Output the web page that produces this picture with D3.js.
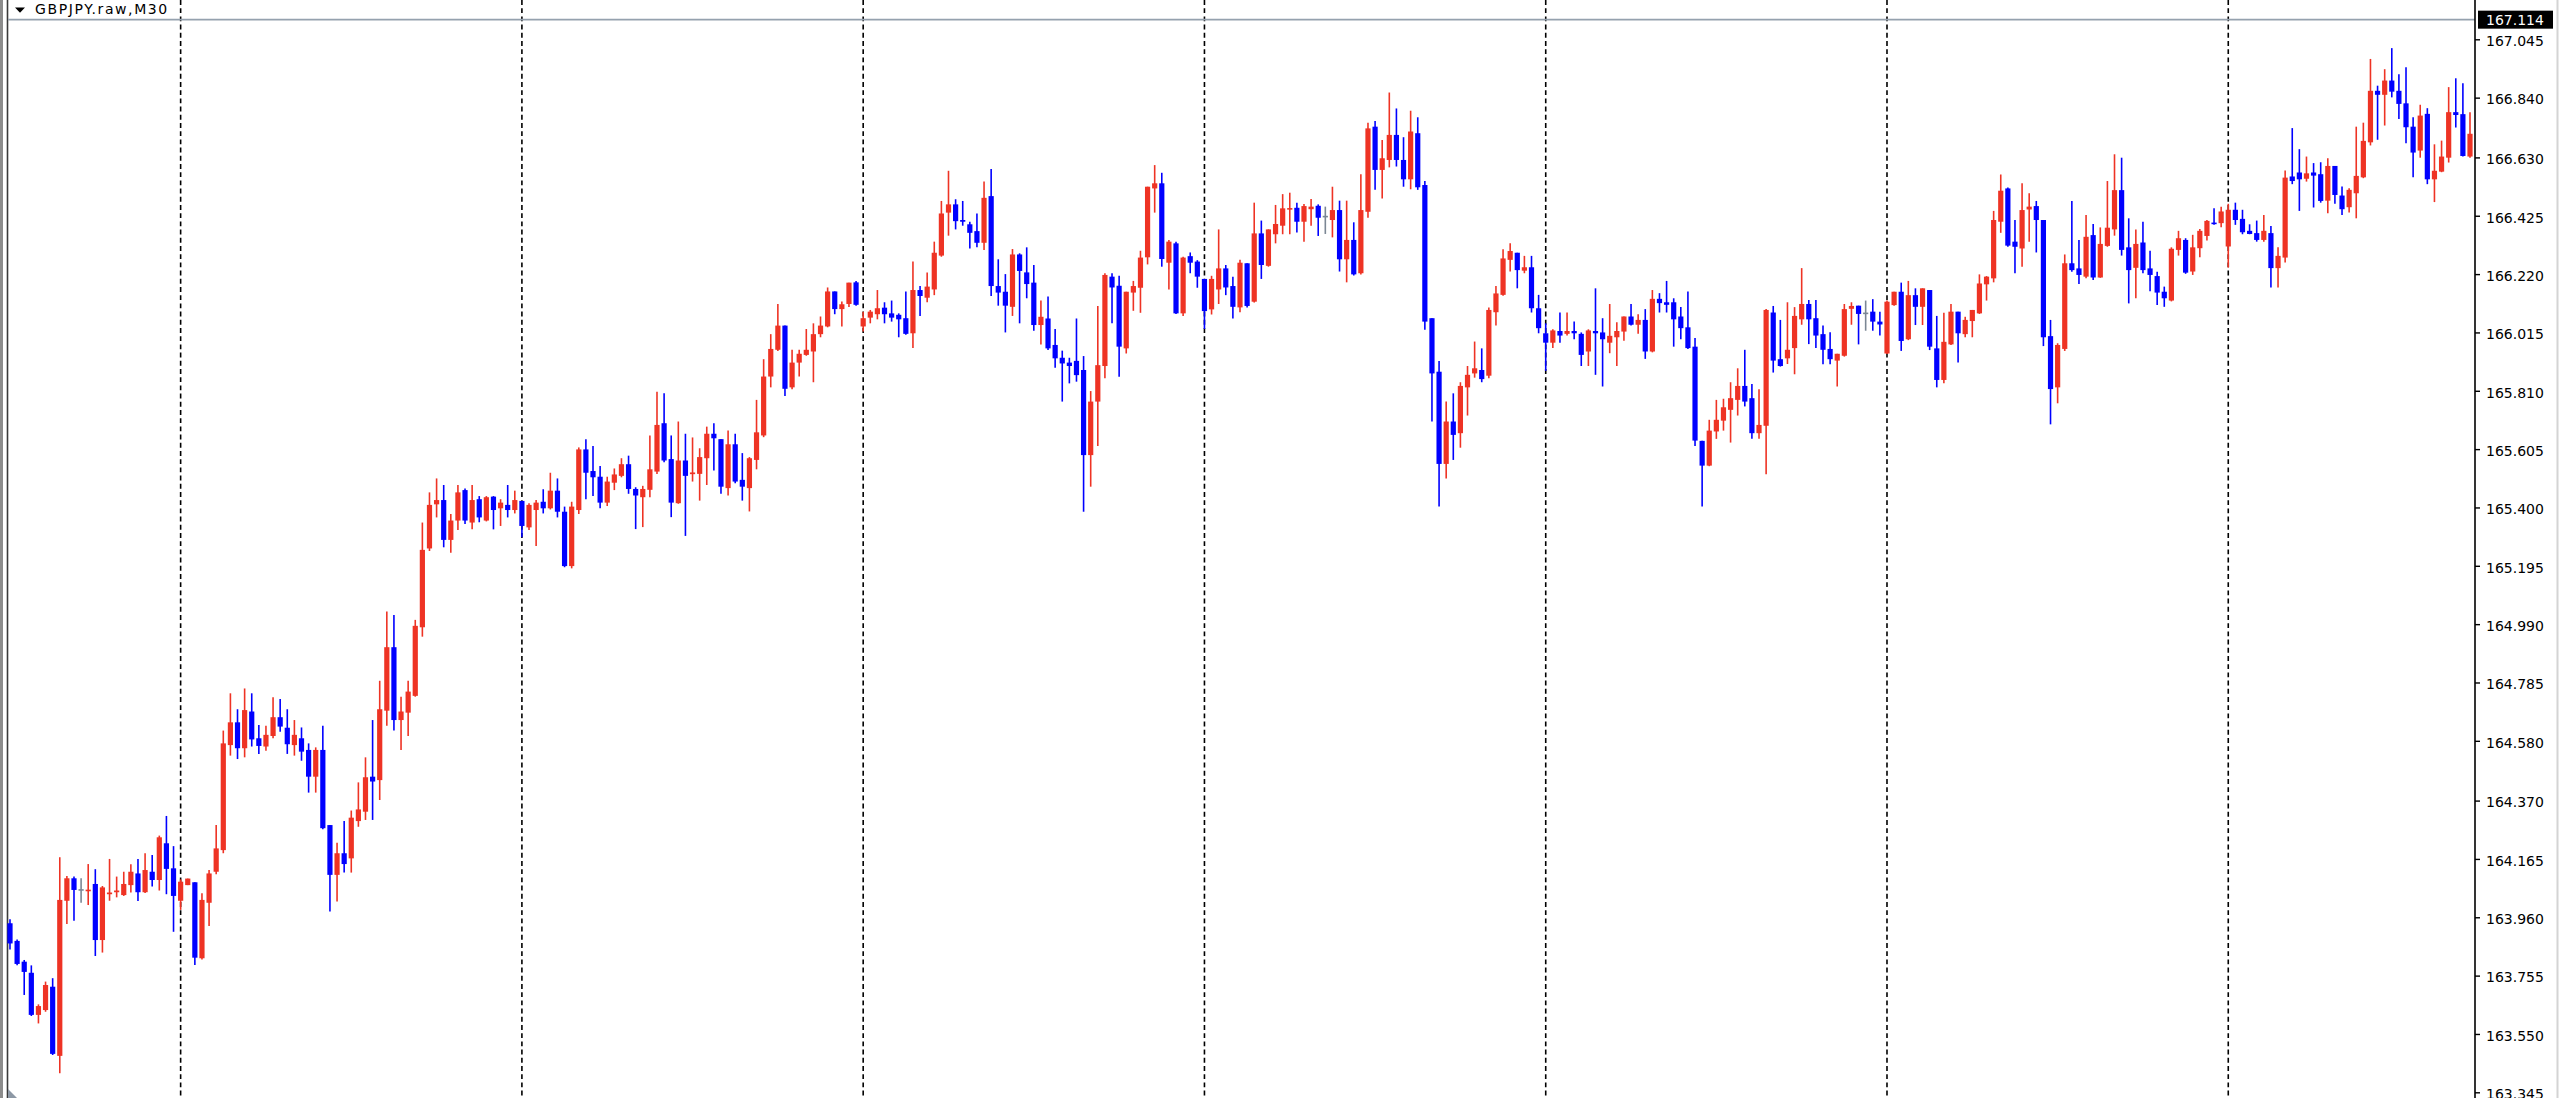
<!DOCTYPE html>
<html><head><meta charset="utf-8">
<script src="https://cdn.jsdelivr.net/npm/d3@7"></script>
<style>html,body{margin:0;padding:0;background:#fff;overflow:hidden}</style>
</head><body>
<svg id="chart" width="2560" height="1098"></svg>
<script>
const symbolTitle = "GBPJPY.raw,M30";
const currentPrice = 167.114;
const priceTicks = ["167.045","166.840","166.630","166.425","166.220","166.015","165.810","165.605","165.400","165.195","164.990","164.785","164.580","164.370","164.165","163.960","163.755","163.550","163.345"];
const separatorBars = [24,72,120,168,216,264,312];

const opens = [
163.939,163.877,163.804,163.765,163.617,163.634,163.716,163.473,164.018,164.097,
164.056,164.053,164.077,163.880,164.041,164.048,164.038,164.073,164.114,164.048,
164.120,164.091,164.220,164.132,164.018,164.073,164.083,163.816,164.011,164.120,
164.196,164.565,164.645,164.554,164.683,164.589,164.560,164.597,164.663,164.626,
164.565,164.589,164.548,164.454,164.548,164.284,164.109,164.185,164.167,164.298,
164.331,164.454,164.442,164.686,164.909,164.653,164.679,164.738,164.979,165.256,
165.411,165.426,165.286,165.354,165.461,165.347,165.429,165.354,165.438,165.397,
165.409,165.391,165.423,165.330,165.391,165.420,165.397,165.459,165.385,165.194,
165.391,165.604,165.528,165.508,165.417,165.487,165.511,165.552,165.465,165.436,
165.462,165.526,165.696,165.570,165.415,165.565,165.517,165.518,165.573,165.659,
165.640,165.468,165.622,165.497,165.468,165.567,165.653,165.860,165.954,166.039,
165.822,165.909,165.936,165.948,166.009,166.036,166.159,166.097,166.115,166.191,
166.036,166.067,166.079,166.102,166.082,166.077,166.065,166.012,166.164,166.137,
166.166,166.285,166.436,166.465,166.410,166.395,166.371,166.330,166.494,166.178,
166.158,166.105,166.289,166.226,166.190,166.041,166.064,165.971,165.926,165.909,
165.915,165.883,165.584,165.772,165.897,166.211,166.179,165.959,166.155,166.172,
166.279,166.521,166.539,166.260,166.328,166.082,166.283,166.264,166.203,166.096,
166.166,166.240,166.178,166.103,166.258,166.123,166.363,166.249,166.360,166.390,
166.449,166.453,166.404,166.448,166.460,166.422,166.410,166.445,166.272,166.340,
166.223,166.439,166.738,166.586,166.621,166.709,166.621,166.553,166.715,166.533,
166.065,165.877,165.553,165.702,165.661,165.822,165.871,165.883,165.863,166.086,
166.147,166.270,166.295,166.232,166.244,166.100,166.012,165.979,166.020,166.010,
166.020,166.010,165.948,166.020,166.015,165.979,165.998,166.018,166.071,166.042,
166.059,165.948,166.133,166.121,166.121,166.071,166.033,165.965,165.634,165.547,
165.667,165.705,165.743,165.778,165.827,165.784,165.661,165.687,166.085,165.921,
165.924,165.960,166.061,166.115,166.065,166.009,165.957,165.916,165.933,166.098,
166.109,166.082,166.088,166.053,165.941,166.111,166.158,165.991,166.146,166.105,
166.164,165.959,165.848,165.973,166.088,166.009,166.055,166.082,166.184,166.205,
166.404,166.521,166.334,166.310,166.447,166.459,166.410,166.002,165.822,165.957,
166.258,166.240,166.211,166.357,166.208,166.319,166.377,166.515,166.314,166.242,
166.331,166.240,166.213,166.158,166.127,166.305,166.340,166.229,166.311,166.354,
166.401,166.399,166.317,166.446,166.414,166.372,166.364,166.340,166.364,166.241,
166.278,166.563,166.577,166.555,166.577,166.571,166.478,166.600,166.496,166.455,
166.504,166.560,166.683,166.864,166.850,166.900,166.864,166.820,166.738,166.654,
166.783,166.553,166.580,166.629,166.789,166.782,166.633];

const highs = [
163.953,163.882,163.810,163.791,163.654,163.734,163.746,164.171,164.105,164.103,
164.097,164.147,164.129,164.070,164.165,164.103,164.120,164.146,164.165,164.185,
164.179,164.247,164.316,164.210,164.093,164.096,164.083,164.044,164.126,164.284,
164.616,164.747,164.691,164.764,164.747,164.636,164.633,164.733,164.727,164.691,
164.653,164.627,164.571,164.557,164.633,164.284,164.222,164.298,164.335,164.434,
164.522,164.653,164.791,165.034,165.022,164.735,164.791,165.005,165.347,165.453,
165.502,165.479,165.377,165.479,165.467,165.479,165.440,165.440,165.440,165.429,
165.479,165.459,165.423,165.415,165.426,165.464,165.522,165.502,165.403,165.420,
165.611,165.640,165.616,165.546,165.508,165.537,165.573,165.582,165.471,165.476,
165.653,165.807,165.801,165.653,165.702,165.659,165.646,165.608,165.684,165.696,
165.640,165.670,165.659,165.591,165.577,165.778,165.921,166.009,166.115,166.039,
165.954,165.954,166.027,166.047,166.071,166.173,166.159,166.124,166.190,166.196,
166.088,166.094,166.164,166.121,166.127,166.082,166.159,166.264,166.178,166.226,
166.334,166.477,166.583,166.483,166.477,166.404,166.433,166.545,166.589,166.272,
166.220,166.308,166.293,166.314,166.252,166.127,166.141,166.027,165.951,165.926,
166.064,165.932,165.809,166.108,166.223,166.223,166.214,166.158,166.196,166.302,
166.527,166.603,166.576,166.340,166.334,166.281,166.296,166.269,166.203,166.214,
166.377,166.252,166.211,166.270,166.258,166.471,166.408,166.377,166.463,166.501,
166.506,166.471,166.466,166.484,166.465,166.457,166.527,166.478,166.478,166.402,
166.571,166.752,166.758,166.691,166.858,166.802,166.701,166.794,166.771,166.547,
166.065,165.915,165.772,165.801,165.840,165.897,165.983,165.959,166.103,166.178,
166.307,166.328,166.295,166.284,166.284,166.147,166.047,166.026,166.085,166.085,
166.053,166.015,166.026,166.170,166.065,166.115,166.051,166.071,166.115,166.079,
166.097,166.164,166.153,166.196,166.135,166.104,166.159,165.995,165.634,165.708,
165.778,165.782,165.840,165.889,165.954,165.834,165.815,166.097,166.108,166.059,
166.121,166.104,166.241,166.129,166.129,166.039,166.016,165.940,166.115,166.121,
166.109,166.127,166.132,166.088,166.127,166.158,166.190,166.196,166.170,166.170,
166.164,166.073,166.084,166.115,166.088,166.070,166.094,166.219,166.213,166.442,
166.570,166.524,166.410,166.539,166.504,166.477,166.410,166.059,165.977,166.289,
166.477,166.340,166.428,166.396,166.384,166.547,166.641,166.629,166.416,166.377,
166.404,166.302,166.228,166.176,166.314,166.372,166.346,166.358,166.378,166.410,
166.451,166.457,166.467,166.471,166.446,166.395,166.408,166.428,166.389,166.314,
166.584,166.733,166.659,166.633,166.610,166.613,166.627,166.600,166.528,166.522,
166.738,166.752,166.976,166.882,166.940,167.014,166.922,166.947,166.771,166.815,
166.803,166.676,166.689,166.877,166.908,166.891,166.789];

const lows = [
163.847,163.791,163.687,163.613,163.587,163.628,163.476,163.412,163.936,163.948,
164.011,164.003,163.824,163.836,164.018,164.030,164.035,164.047,164.017,164.045,
164.068,164.054,164.041,163.909,163.986,164.073,163.792,163.812,163.929,164.111,
164.185,164.528,164.516,164.522,164.560,164.534,164.545,164.589,164.612,164.534,
164.528,164.510,164.398,164.398,164.269,163.980,164.015,164.117,164.117,164.278,
164.302,164.302,164.372,164.633,164.616,164.548,164.597,164.735,164.946,165.247,
165.365,165.260,165.241,165.321,165.342,165.323,165.348,165.351,165.323,165.335,
165.365,165.379,165.295,165.321,165.265,165.379,165.393,165.365,165.190,165.186,
165.377,165.429,165.440,165.397,165.405,165.461,165.506,165.448,165.324,165.331,
165.436,165.518,165.559,165.366,165.413,165.300,165.491,165.424,165.479,165.530,
165.448,165.442,165.485,165.424,165.386,165.534,165.647,165.822,165.950,165.792,
165.815,165.860,165.933,165.840,165.998,166.033,166.079,166.036,166.104,166.109,
166.018,166.047,166.061,166.047,166.053,165.998,166.007,165.960,166.073,166.121,
166.146,166.281,166.355,166.377,166.390,166.310,166.314,166.305,166.143,166.109,
166.015,166.073,166.047,166.135,166.021,165.973,165.953,165.891,165.772,165.836,
165.842,165.385,165.473,165.616,165.854,166.047,165.859,165.941,166.091,166.084,
166.254,166.436,166.246,166.166,166.080,166.073,166.223,166.172,166.027,166.078,
166.115,166.146,166.064,166.086,166.103,166.120,166.203,166.246,166.328,166.360,
166.360,166.366,166.334,166.390,166.354,166.361,166.349,166.229,166.191,166.215,
166.219,166.418,166.516,166.486,166.595,166.598,166.527,166.518,166.516,166.024,
165.702,165.403,165.502,165.567,165.610,165.723,165.856,165.840,165.854,166.039,
166.144,166.229,166.170,166.223,166.085,166.012,165.880,165.960,165.979,166.004,
165.991,165.897,165.897,165.866,165.825,165.942,165.897,165.986,166.039,166.010,
165.922,165.945,166.085,166.085,165.965,165.991,165.957,165.616,165.403,165.545,
165.641,165.670,165.628,165.723,165.755,165.641,165.641,165.517,165.874,165.895,
165.904,165.868,166.042,165.974,165.960,165.903,165.903,165.825,165.930,166.042,
165.973,166.021,166.021,166.004,165.939,166.109,165.950,165.988,166.041,166.041,
165.953,165.822,165.836,165.971,165.909,165.998,165.998,166.080,166.127,166.191,
166.365,166.316,166.223,166.246,166.334,166.296,165.967,165.692,165.766,165.950,
166.228,166.185,166.205,166.199,166.207,166.316,166.355,166.285,166.117,166.135,
166.223,166.160,166.111,166.105,166.124,166.285,166.221,166.217,166.279,166.338,
166.393,166.385,166.243,166.393,166.360,166.360,166.334,166.334,166.173,166.173,
166.261,166.536,166.442,166.545,166.454,166.471,166.434,166.467,166.428,166.436,
166.416,166.557,166.672,166.692,166.742,166.841,166.765,166.680,166.560,166.629,
166.536,166.473,166.578,166.612,166.735,166.633,166.629];

const closes = [
163.868,163.796,163.768,163.617,163.648,163.722,163.480,164.021,164.097,164.056,
164.056,164.057,163.880,164.065,164.047,164.054,164.077,164.120,164.048,164.126,
164.091,164.241,164.130,164.035,164.085,164.096,163.818,164.021,164.114,164.202,
164.571,164.645,164.554,164.688,164.585,164.562,164.601,164.663,164.630,164.568,
164.601,164.542,164.454,164.548,164.273,164.109,164.185,164.147,164.310,164.339,
164.452,164.437,164.691,164.909,164.653,164.683,164.753,164.984,165.251,165.409,
165.426,165.286,165.354,165.453,165.354,165.426,165.365,165.436,165.391,165.417,
165.391,165.426,165.335,165.409,165.417,165.397,165.459,165.385,165.194,165.403,
165.604,165.522,165.506,165.417,165.491,165.516,165.552,165.465,165.442,165.465,
165.534,165.690,165.565,165.417,165.565,165.511,165.523,165.577,165.659,165.643,
165.473,165.622,165.491,165.473,165.573,165.664,165.860,165.957,166.039,165.817,
165.909,165.940,165.954,166.009,166.039,166.159,166.097,166.114,166.190,166.112,
166.065,166.088,166.100,166.079,166.067,166.061,166.010,166.164,166.143,166.176,
166.295,166.433,166.465,166.406,166.404,166.365,166.330,166.488,166.178,166.155,
166.109,166.289,166.231,166.185,166.041,166.070,165.959,165.924,165.906,165.897,
165.865,165.584,165.772,165.900,166.217,166.173,165.965,166.158,166.178,166.278,
166.527,166.539,166.273,166.334,166.082,166.278,166.260,166.211,166.090,166.203,
166.240,166.173,166.105,166.260,166.108,166.363,166.252,166.377,166.396,166.451,
166.452,166.404,166.459,166.457,166.418,166.422,166.445,166.272,166.340,166.219,
166.445,166.732,166.586,166.627,166.709,166.621,166.553,166.721,166.525,166.053,
165.871,165.553,165.702,165.655,165.827,165.866,165.889,165.851,166.094,166.152,
166.275,166.301,166.234,166.244,166.100,166.030,165.979,166.022,166.004,166.020,
166.012,165.936,166.022,166.012,165.991,166.003,166.020,166.071,166.042,166.059,
165.948,166.133,166.118,166.112,166.061,166.030,165.960,165.635,165.547,165.670,
165.708,165.752,165.784,165.827,165.772,165.661,165.690,166.094,165.916,165.897,
165.954,166.073,166.115,166.061,166.004,165.954,165.921,165.940,166.097,166.108,
166.080,166.082,166.053,166.043,166.123,166.158,165.985,166.146,166.105,166.170,
165.965,165.848,165.982,166.088,166.012,166.059,166.094,166.187,166.211,166.410,
166.513,166.320,166.316,166.445,166.457,166.410,165.998,165.816,165.971,166.258,
166.234,166.217,166.351,166.208,166.326,166.383,166.515,166.305,166.234,166.326,
166.234,166.217,166.155,166.135,166.309,166.346,166.225,166.314,166.372,166.407,
166.396,166.440,166.446,166.410,166.367,166.361,166.340,166.372,166.241,166.284,
166.559,166.547,166.553,166.574,166.566,166.477,166.600,166.498,166.448,166.516,
166.565,166.688,166.864,166.850,166.900,166.861,166.818,166.736,166.647,166.777,
166.553,166.583,166.633,166.789,166.779,166.635,166.713];

// ---- drawing ----
const W = 2560, H = 1098;
const axisX = 2475;
const upColor = "#ee3324", downColor = "#0000ff", flatColor = "#7b8794";

const svg = d3.select("#chart");
svg.append("rect").attr("width", W).attr("height", H).attr("fill", "#fff");

const n = opens.length;
const x = d3.scaleLinear().domain([0, n - 1]).range([10, 2470]);
const y = d3.scaleLinear().domain([163.345, 167.045]).range([1092.3, 39.3]);

// window frame
svg.append("rect").attr("x", 0).attr("y", 0).attr("width", 3).attr("height", H).attr("fill", "#8c8c8c");
svg.append("line").attr("x1", 7.5).attr("x2", 7.5).attr("y1", 0).attr("y2", H)
  .attr("stroke", "#3a3a3a").attr("stroke-width", 1.6);
svg.append("line").attr("x1", 2557.5).attr("x2", 2557.5).attr("y1", 0).attr("y2", H)
  .attr("stroke", "#d4d4d4").attr("stroke-width", 2);

// period separators
svg.append("g").selectAll("line").data(separatorBars).join("line")
  .attr("x1", d => x(d)).attr("x2", d => x(d))
  .attr("y1", 0).attr("y2", H)
  .attr("stroke", "#000").attr("stroke-width", 1.6)
  .attr("stroke-dasharray", "4.9,3.3");

// current price line
svg.append("line").attr("x1", 8).attr("x2", axisX).attr("y1", y(currentPrice)).attr("y2", y(currentPrice))
  .attr("stroke", "#95a1ae").attr("stroke-width", 1.6);

// candles
const data = d3.range(n).map(i => ({i, o: opens[i], h: highs[i], l: lows[i], c: closes[i]}));
const col = d => d.c > d.o ? upColor : (d.c < d.o ? downColor : flatColor);
const bodyW = 5.2;
const g = svg.append("g");
g.selectAll("line.wick").data(data).join("line").attr("class", "wick")
  .attr("x1", d => x(d.i)).attr("x2", d => x(d.i))
  .attr("y1", d => y(d.h)).attr("y2", d => y(d.l))
  .attr("stroke", col).attr("stroke-width", 1.6);
g.selectAll("rect.body").data(data).join("rect").attr("class", "body")
  .attr("x", d => x(d.i) - bodyW / 2)
  .attr("y", d => y(Math.max(d.o, d.c)) - (d.o === d.c ? 0.8 : 0))
  .attr("width", bodyW)
  .attr("height", d => Math.max(1.6, y(Math.min(d.o, d.c)) - y(Math.max(d.o, d.c))))
  .attr("fill", col);

// price axis
svg.append("line").attr("x1", axisX).attr("x2", axisX).attr("y1", 0).attr("y2", H)
  .attr("stroke", "#000").attr("stroke-width", 1.6);
const axis = d3.axisRight(y).tickValues(priceTicks.map(Number))
  .tickFormat(d3.format(".3f")).tickSize(5).tickPadding(6);
const ga = svg.append("g").attr("transform", `translate(${axisX},0)`).call(axis);
ga.select(".domain").remove();
ga.selectAll(".tick line").attr("stroke", "#000").attr("stroke-width", 1.4);
ga.selectAll(".tick text").attr("fill", "#000")
  .style("font-family", "'DejaVu Sans', Verdana, sans-serif").style("font-size", "14px")
  .attr("dy", "0.45em");

// current price label
const cpY = y(currentPrice);
svg.append("rect").attr("x", 2478).attr("y", cpY - 9).attr("width", 75).attr("height", 18).attr("fill", "#000");
svg.append("text").attr("x", 2486).attr("y", cpY).attr("dy", "0.36em")
  .attr("fill", "#fff").style("font-family", "'DejaVu Sans', Verdana, sans-serif").style("font-size", "14px")
  .text(d3.format(".3f")(currentPrice));

// title
svg.append("path").attr("d", "M15,7.5 L25,7.5 L20,12.8 Z").attr("fill", "#000");
svg.append("text").attr("x", 35).attr("y", 13.5)
  .style("font-family", "'DejaVu Sans', Verdana, sans-serif").style("font-size", "14px")
  .style("letter-spacing", "1.6px").attr("fill", "#000").text(symbolTitle);

// chart shift marker (bottom-left)
svg.append("path").attr("d", "M8,1089 L8,1098 L17,1098 Z").attr("fill", "#8d98a5");
</script>
</body></html>
